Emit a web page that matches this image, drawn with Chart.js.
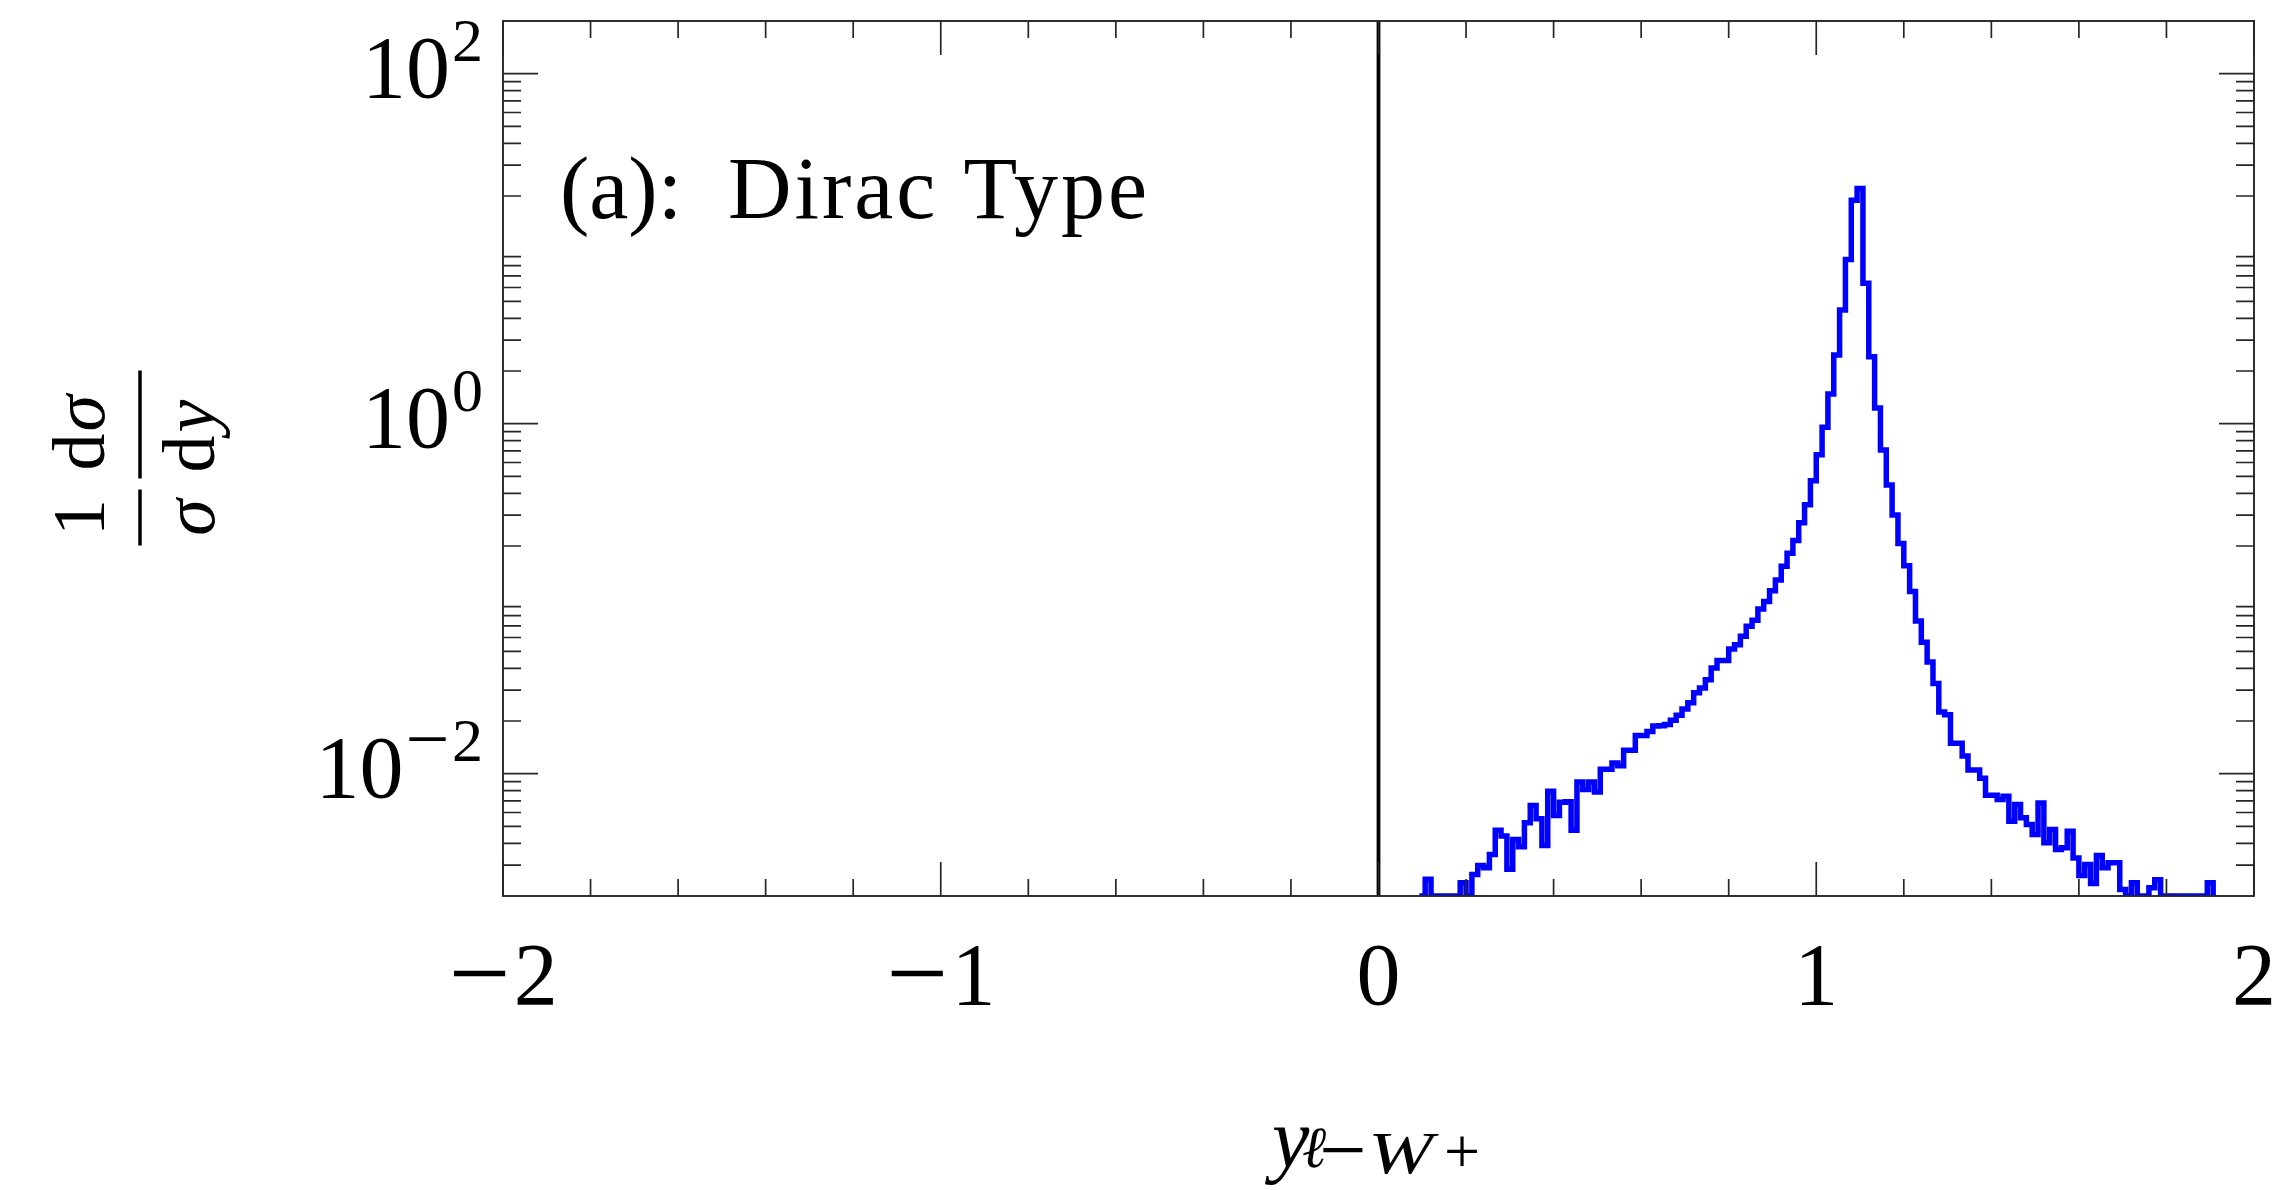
<!DOCTYPE html>
<html>
<head>
<meta charset="utf-8">
<script src="https://cdn.jsdelivr.net/npm/chart.js@4.4.1/dist/chart.umd.min.js"></script>
<style>
  html, body { margin: 0; padding: 0; background: #fff; }
  canvas { display: block; }
</style>
</head>
<body>
<canvas id="chart" width="2278" height="1190"></canvas>
<script>
// normalised distribution of y(l- W+), 300 bins on [-2, 2]
const binWidth = 4 / 300;
const firstBin = 7;          // index of the first listed bin, counted from y = 0
const density = [
  0, 0.00249, 0, 0, 0, 0, 0, 0.00238, 0, 0.00265,
  0.00299, 0.00290, 0.00345, 0.00475, 0.00440, 0.00284, 0.00421, 0.00382, 0.00524, 0.00658,
  0.00552, 0.00389, 0.00794, 0.00577, 0.00687, 0.00692, 0.00475, 0.00897, 0.00811, 0.00897,
  0.00787, 0.0106, 0.0106, 0.0115, 0.0111, 0.0136, 0.0136, 0.0165, 0.0165, 0.0174,
  0.0187, 0.0188, 0.0191, 0.0202, 0.0216, 0.0234, 0.0254, 0.0290, 0.0309, 0.0344,
  0.0402, 0.0443, 0.0443, 0.0515, 0.0546, 0.0610, 0.0695, 0.0752, 0.0873, 0.0964,
  0.111, 0.128, 0.153, 0.182, 0.215, 0.272, 0.344, 0.472, 0.664, 0.955,
  1.48, 2.47, 4.46, 8.67, 18.9, 22.1, 6.34, 2.41, 1.23, 0.708,
  0.447, 0.301, 0.207, 0.154, 0.110, 0.0746, 0.0564, 0.0434, 0.0328, 0.0225,
  0.0217, 0.0149, 0.0149, 0.0126, 0.0105, 0.0105, 0.00942, 0.00753, 0.00753, 0.00711,
  0.00743, 0.00535, 0.00667, 0.00560, 0.00513, 0.00449, 0.00681, 0.00403, 0.00480, 0.00369,
  0.00377, 0.00469, 0.00330, 0.00262, 0.00303, 0.00236, 0.00341, 0.00290, 0.00310, 0.00310,
  0.00218, 0, 0.00238, 0, 0, 0.00223, 0.00248, 0, 0, 0,
  0, 0, 0, 0, 0, 0.00238, 0
];

const xRange = [-2, 2];
const yRange = [0.002, 200];
const xMajorTicks = [-2, -1, 0, 1, 2];
const xTickLabels = ['\u22122', '\u22121', '0', '1', '2'];
const yMajorTicks = [0.01, 1, 100];
const yTickExponents = ['\u22122', '0', '2'];
const panelLabel = '(a):';
const panelName = 'Dirac Type';

const SERIF = '"Liberation Serif", "Times New Roman", serif';
const MINUS = '\u2212';

// empty bins are drawn on the lower edge of the log axis, as the log scale cannot take 0
const histPoints = density.map((v, i) => ({
    x: (firstBin + i) * binWidth,
    y: v > 0 ? v : yRange[0]
}));
const zeroLine = [{ x: 0, y: yRange[0] }, { x: 0, y: yRange[1] }];

function minorXTicks() {
    const out = [];
    for (let i = -20; i <= 20; i += 2) {
        if (i % 10 !== 0) out.push(i / 10);
    }
    return out;
}

function minorYTicks() {
    const out = [];
    for (let k = -3; k <= 2; k++) {
        for (let m = 2; m <= 9; m++) {
            const v = m * Math.pow(10, k);
            if (v > yRange[0] && v < yRange[1]) out.push(v);
        }
    }
    return out;
}

// number with a wider minus sign (closer to the TeX one); returns drawn width
function signedWidth(ctx, text, size) {
    let w = 0;
    let body = text;
    if (text.startsWith(MINUS)) {
        ctx.font = Math.round(size * 1.25) + 'px ' + SERIF;
        w += ctx.measureText(MINUS).width + size * 0.04;
        body = text.slice(1);
    }
    ctx.font = size + 'px ' + SERIF;
    return w + ctx.measureText(body).width;
}

function drawSigned(ctx, text, x, baseline, size) {
    ctx.textAlign = 'left';
    let body = text;
    if (text.startsWith(MINUS)) {
        const big = Math.round(size * 1.25);
        ctx.font = big + 'px ' + SERIF;
        ctx.fillText(MINUS, x, baseline + 0.25 * (big - size));
        x += ctx.measureText(MINUS).width + size * 0.04;
        body = text.slice(1);
    }
    ctx.font = size + 'px ' + SERIF;
    ctx.fillText(body, x, baseline);
}

const pgfAxes = {
    id: 'pgfAxes',
    afterDraw(chart) {
        const { ctx, chartArea: a } = chart;
        const xs = chart.scales.x;
        const ys = chart.scales.y;

        ctx.save();
        ctx.strokeStyle = '#262626';
        ctx.lineWidth = 1.7;
        ctx.beginPath();
        const seg = (x1, y1, x2, y2) => { ctx.moveTo(x1, y1); ctx.lineTo(x2, y2); };

        xMajorTicks.forEach(v => {
            const px = xs.getPixelForValue(v);
            seg(px, a.bottom, px, a.bottom - 34);
            seg(px, a.top, px, a.top + 34);
        });
        minorXTicks().forEach(v => {
            const px = xs.getPixelForValue(v);
            seg(px, a.bottom, px, a.bottom - 17);
            seg(px, a.top, px, a.top + 17);
        });
        yMajorTicks.forEach(v => {
            const py = ys.getPixelForValue(v);
            seg(a.left, py, a.left + 35, py);
            seg(a.right, py, a.right - 35, py);
        });
        minorYTicks().forEach(v => {
            const py = ys.getPixelForValue(v);
            seg(a.left, py, a.left + 18, py);
            seg(a.right, py, a.right - 18, py);
        });
        ctx.stroke();

        ctx.lineWidth = 1.9;
        ctx.strokeRect(a.left, a.top, a.right - a.left, a.bottom - a.top);

        ctx.fillStyle = '#000';
        ctx.textBaseline = 'alphabetic';

        // x tick labels
        xMajorTicks.forEach((v, i) => {
            const w = signedWidth(ctx, xTickLabels[i], 88);
            drawSigned(ctx, xTickLabels[i], xs.getPixelForValue(v) - w / 2, a.bottom + 108, 88);
        });

        // y tick labels 10^e
        yMajorTicks.forEach((v, i) => {
            const py = ys.getPixelForValue(v);
            const supW = signedWidth(ctx, yTickExponents[i], 62);
            ctx.font = '88px ' + SERIF;
            const baseW = ctx.measureText('10').width;
            const right = a.left - 20;
            ctx.textAlign = 'left';
            ctx.fillText('10', right - supW - baseW - 2, py + 23);
            drawSigned(ctx, yTickExponents[i], right - supW, py - 13, 62);
        });

        // panel label
        ctx.textAlign = 'left';
        ctx.font = '88px ' + SERIF;
        ctx.fillText(panelLabel, 560, 218);
        if ('letterSpacing' in ctx) ctx.letterSpacing = '3px';
        ctx.fillText(panelName, 728, 218);
        if ('letterSpacing' in ctx) ctx.letterSpacing = '0px';

        // x axis title: y_{l- W+}
        ctx.font = 'italic 84px ' + SERIF;
        ctx.fillText('y', 1272, 1167);
        ctx.font = 'italic 58px ' + SERIF;
        ctx.fillText('\u2113', 1302, 1167);
        ctx.save();
        ctx.translate(1368, 1173);
        ctx.scale(1.3, 1);          // TeX math italic W is much wider than Times
        ctx.font = 'italic 60px ' + SERIF;
        ctx.fillText('W', 0, 0);
        ctx.restore();
        ctx.textAlign = 'center';
        ctx.font = '84px ' + SERIF;
        ctx.fillText(MINUS, 1343, 1178);
        ctx.font = '64px ' + SERIF;
        ctx.fillText('+', 1462, 1173);

        // y axis title: (1/sigma) dsigma/dy, rotated
        ctx.save();
        ctx.translate(140, (a.top + a.bottom) / 2);
        ctx.rotate(-Math.PI / 2);
        ctx.lineWidth = 3.5;
        ctx.strokeStyle = '#000';
        ctx.beginPath();
        seg(-87, 0, -31, 0);
        seg(-20, 0, 88, 0);
        ctx.stroke();
        ctx.textAlign = 'center';
        ctx.font = '74px ' + SERIF;
        ctx.fillText('1', -59, -36);
        ctx.font = 'italic 74px ' + SERIF;
        ctx.fillText('\u03c3', -59, 74);
        ctx.textAlign = 'left';
        ctx.font = '74px ' + SERIF;
        ctx.fillText('d', -12, -36);
        ctx.fillText('d', -14, 74);
        const dW = ctx.measureText('d').width;
        ctx.font = 'italic 74px ' + SERIF;
        ctx.fillText('\u03c3', -12 + dW + 2, -36);
        ctx.fillText('y', -14 + dW + 3, 74);
        ctx.restore();

        ctx.restore();
    }
};

const ctx = document.getElementById('chart').getContext('2d');
new Chart(ctx, {
    type: 'line',
    data: {
        datasets: [
            {
                label: 'y = 0',
                data: zeroLine,
                borderColor: '#000',
                borderWidth: 3.8,
                pointRadius: 0
            },
            {
                label: 'Dirac Type',
                data: histPoints,
                borderColor: '#0000ff',
                borderWidth: 5.5,
                pointRadius: 0,
                stepped: true,
                borderJoinStyle: 'miter',
                borderCapStyle: 'butt'
            }
        ]
    },
    options: {
        responsive: false,
        animation: false,
        devicePixelRatio: 1,
        events: [],
        layout: {
            padding: { left: 503, right: 24, top: 21, bottom: 294 }
        },
        scales: {
            x: { type: 'linear', min: xRange[0], max: xRange[1], display: false },
            y: { type: 'logarithmic', min: yRange[0], max: yRange[1], display: false }
        },
        plugins: {
            legend: { display: false },
            tooltip: { enabled: false }
        }
    },
    plugins: [pgfAxes]
});
</script>
</body>
</html>
